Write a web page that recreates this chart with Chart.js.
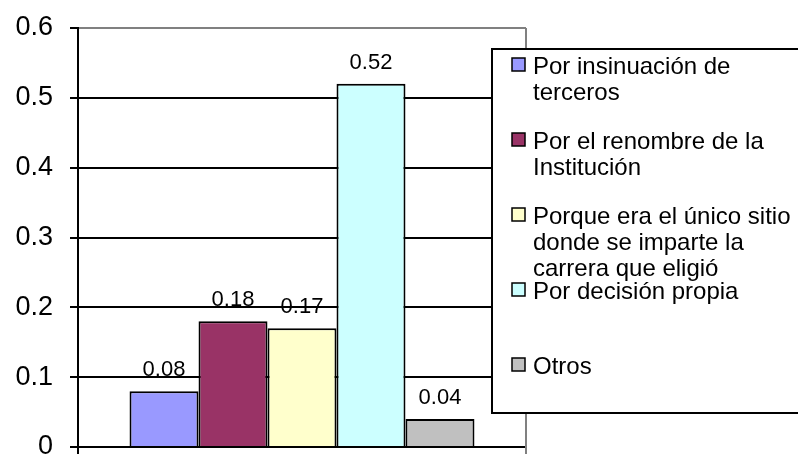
<!DOCTYPE html>
<html>
<head>
<meta charset="utf-8">
<script src="https://cdn.jsdelivr.net/npm/chart.js@4/dist/chart.umd.min.js"></script>
<style>
  html, body { margin: 0; padding: 0; background: #fff; }
  #wrap { width: 798px; height: 454px; overflow: hidden; position: relative; }
</style>
</head>
<body>
<div id="wrap"><canvas id="chart" width="798" height="470"></canvas></div>
<script>
const categories = [""];
const seriesLabels = [
  "Por insinuación de terceros",
  "Por el renombre de la Institución",
  "Porque era el único sitio donde se imparte la carrera que eligió",
  "Por decisión propia",
  "Otros"
];
const seriesValues = [0.08, 0.18, 0.17, 0.52, 0.04];
const seriesColors = ["#9999ff", "#993366", "#ffffcc", "#ccffff", "#c0c0c0"];
const yMin = 0;
const yMax = 0.6;
const yStep = 0.1;

const FONT = "'Liberation Sans', Arial, sans-serif";
Chart.defaults.font.family = FONT;
Chart.defaults.color = "#000";

// value labels above each bar
const valueLabels = {
  id: "valueLabels",
  afterDatasetsDraw(chart) {
    const ctx = chart.ctx;
    ctx.save();
    ctx.font = "22px " + FONT;
    ctx.fillStyle = "#000";
    ctx.textAlign = "center";
    ctx.textBaseline = "alphabetic";
    chart.data.datasets.forEach((ds, i) => {
      const bar = chart.getDatasetMeta(i).data[0];
      ctx.fillText(String(ds.data[0]), bar.x, bar.y - 15);
    });
    ctx.restore();
  }
};

// gray right edge of the plot area
const plotBorder = {
  id: "plotBorder",
  beforeDatasetsDraw(chart) {
    const { ctx, chartArea } = chart;
    ctx.save();
    ctx.strokeStyle = "#808080";
    ctx.lineWidth = 2;
    ctx.beginPath();
    ctx.moveTo(chartArea.right, chartArea.top);
    ctx.lineTo(chartArea.right, chartArea.bottom + 8);
    ctx.stroke();
    ctx.restore();
  }
};

// boxed legend with wrapped labels
const boxLegend = {
  id: "boxLegend",
  afterDraw(chart) {
    const { ctx, chartArea } = chart;
    const left = chartArea.right - 34;
    const top = chartArea.top + 21;
    const maxWidth = 265;
    ctx.save();
    ctx.fillStyle = "#fff";
    ctx.strokeStyle = "#000";
    ctx.lineWidth = 2;
    ctx.fillRect(left, top, 320, 364);
    ctx.strokeRect(left, top, 320, 364);
    ctx.font = "24px " + FONT;
    ctx.textBaseline = "alphabetic";
    chart.data.datasets.forEach((ds, i) => {
      const y0 = top + 9 + i * 75;
      ctx.fillStyle = ds.backgroundColor;
      ctx.fillRect(left + 20, y0, 13, 13);
      ctx.strokeStyle = "#000";
      ctx.lineWidth = 1.5;
      ctx.strokeRect(left + 20, y0, 13, 13);
      // wrap words
      const words = ds.label.split(" ");
      const lines = [];
      let line = "";
      words.forEach(w => {
        const test = line ? line + " " + w : w;
        if (ctx.measureText(test).width > maxWidth && line) {
          lines.push(line);
          line = w;
        } else {
          line = test;
        }
      });
      lines.push(line);
      ctx.fillStyle = "#000";
      lines.forEach((l, k) => ctx.fillText(l, left + 41, y0 + 16 + k * 26));
    });
    ctx.restore();
  }
};

new Chart(document.getElementById("chart"), {
  type: "bar",
  data: {
    labels: categories,
    datasets: seriesLabels.map((label, i) => ({
      label: label,
      data: [seriesValues[i]],
      backgroundColor: seriesColors[i],
      borderColor: "#000",
      borderWidth: 2
    }))
  },
  options: {
    responsive: false,
    animation: false,
    layout: { padding: { left: 0, top: 28, right: 272, bottom: 15 } },
    datasets: { bar: { categoryPercentage: 0.77, barPercentage: 1 } },
    plugins: {
      legend: { display: false },
      tooltip: { enabled: false }
    },
    scales: {
      x: {
        ticks: { display: false },
        grid: { display: true, drawOnChartArea: false, tickLength: 8, color: "#000", lineWidth: 2 },
        border: { color: "#000", width: 2 }
      },
      y: {
        min: yMin,
        max: yMax,
        afterFit(scale) {
          scale.width = 78;
          scale.paddingTop = 0;
          scale.paddingBottom = 0;
        },
        ticks: { stepSize: yStep, padding: 17, font: { size: 27 }, color: "#000" },
        grid: {
          tickLength: 8,
          lineWidth: 2,
          color: c => (c.tick && c.tick.value === yMax ? "#808080" : "#000"),
          tickColor: "#000"
        },
        border: { color: "#000", width: 2 }
      }
    }
  },
  plugins: [plotBorder, valueLabels, boxLegend]
});
</script>
</body>
</html>
